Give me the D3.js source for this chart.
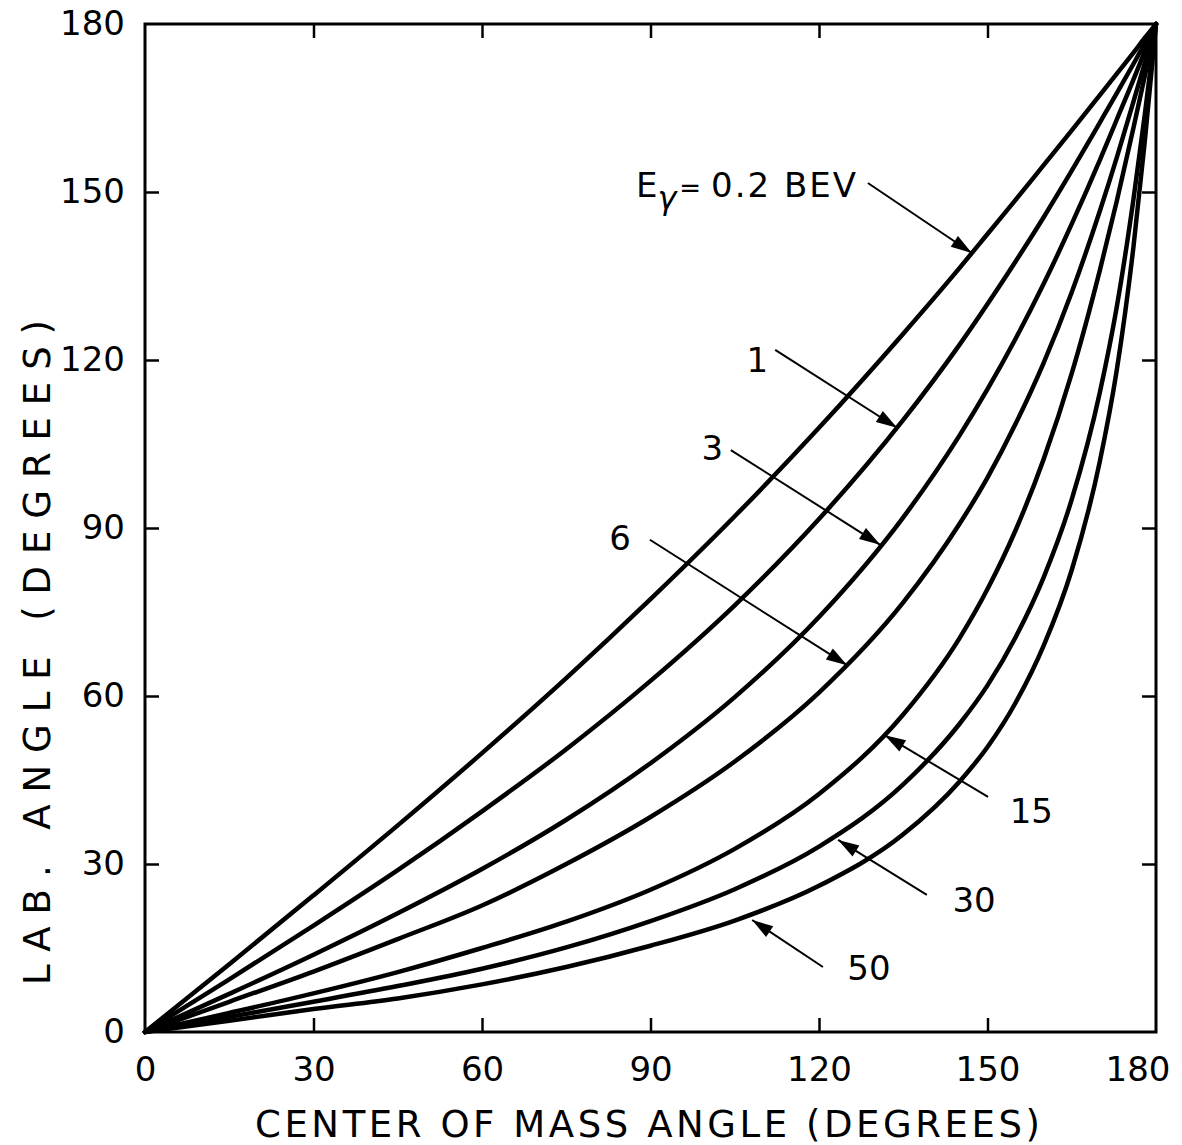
<!DOCTYPE html>
<html>
<head>
<meta charset="utf-8">
<script src="https://cdn.jsdelivr.net/npm/d3@7"></script>
<style>
  html, body { margin: 0; padding: 0; background: #fff; }
  svg { display: block; }
  text { font-family: "DejaVu Sans", "Liberation Sans", sans-serif; fill: #000; }
</style>
</head>
<body>
<div id="chart"></div>
<script>
// ---- Data ----
const cmAngles = [0, 15, 30, 45, 60, 75, 90, 105, 120, 135, 145, 150, 155, 160, 165, 170, 173, 176, 178, 180];

const labE02 = [0, 12.1, 24.4, 36.9, 49.8, 63.2, 77.3, 92.1, 107.9, 124.7, 136.4, 142.5, 148.6, 154.8, 161.0, 167.3, 171.1, 174.9, 177.5, 180];
const labE1  = [0, 9.4, 19.0, 28.9, 39.4, 50.5, 62.7, 76.2, 91.6, 109.3, 122.7, 130.0, 137.6, 145.5, 153.8, 162.4, 167.6, 172.9, 176.5, 180];
const labE3  = [0, 6.8, 13.8, 21.2, 29.1, 37.9, 48.0, 59.8, 74.1, 91.9, 106.5, 114.8, 123.8, 133.6, 144.3, 155.7, 162.9, 170.1, 175.1, 180];
const labE6  = [0, 5.4, 10.8, 16.6, 22.6, 30.0, 38.4, 48.3, 60.6, 76.7, 90.7, 99.0, 108.6, 119.5, 132.1, 146.6, 156.1, 166.2, 173.0, 180];
const labE15 = [0, 3.4, 6.9, 10.7, 15.0, 19.7, 25.4, 32.7, 42.5, 56.7, 70.3, 79.1, 89.6, 102.3, 117.6, 136.0, 148.3, 161.5, 170.7, 180];
const labE30 = [0, 2.7, 5.4, 8.2, 11.3, 15.1, 19.8, 25.5, 33.1, 44.2, 55.0, 61.9, 70.5, 81.2, 95.1, 114.2, 129.4, 148.8, 163.8, 180];
const labE50 = [0, 2.0, 4.1, 6.0, 8.5, 11.6, 15.4, 19.9, 26.1, 35.3, 44.7, 50.9, 58.8, 69.0, 82.5, 101.9, 118.1, 140.3, 159.0, 180];

const seriesValues = [labE02, labE1, labE3, labE6, labE15, labE30, labE50];

const xTicks = [0, 30, 60, 90, 120, 150, 180];
const yTicks = [0, 30, 60, 90, 120, 150, 180];
const xTitle = "CENTER OF MASS ANGLE (DEGREES)";
const yTitle = "LAB. ANGLE (DEGREES)";

// curve labels: text, label anchor (cm, lab), leader start (cm, lab), arrow tip (cm, lab)
const labelTexts = ["1", "3", "6", "15", "30", "50"];
const labelPos   = [[109.0, 117.9], [101.0, 102.1], [84.6, 86.1], [157.8, 37.4], [147.6, 21.4], [128.9, 9.3]];
const leaderFrom = [[112.2, 121.8], [104.3, 103.9], [89.9, 87.9], [150.1, 42.0], [139.2, 24.5], [120.7, 11.6]];
const leaderTo   = [[133.9, 107.9], [130.9, 87.0], [125.0, 65.5], [131.7, 53.0], [123.4, 34.3], [108.1, 20.0]];
const firstLabelPos = [87.4, 149.1];
const firstLeaderFrom = [128.7, 151.6];
const firstLeaderTo = [147.2, 139.1];

// ---- Drawing ----
const W = 1182, H = 1145;
const svg = d3.select("#chart").append("svg").attr("width", W).attr("height", H);

const x = d3.scaleLinear().domain([0, 180]).range([145, 1156]);
const y = d3.scaleLinear().domain([0, 180]).range([1032, 24]);

const tickLen = 14;

// bottom axis (labels)
const gB = svg.append("g").attr("transform", `translate(0,${y(0)})`)
  .call(d3.axisBottom(x).tickValues(xTicks).tickSize(-tickLen).tickPadding(25).tickFormat(d3.format("d")));
// left axis (labels)
const gL = svg.append("g").attr("transform", `translate(${x(0)},0)`)
  .call(d3.axisLeft(y).tickValues(yTicks).tickSize(-tickLen).tickPadding(20).tickFormat(d3.format("d")));
// top & right axes (ticks only)
const gT = svg.append("g").attr("transform", `translate(0,${y(180)})`)
  .call(d3.axisTop(x).tickValues(xTicks.slice(1, -1)).tickSize(-tickLen).tickFormat(""));
const gR = svg.append("g").attr("transform", `translate(${x(180)},0)`)
  .call(d3.axisRight(y).tickValues(yTicks.slice(1, -1)).tickSize(-tickLen).tickFormat(""));

[gB, gL, gT, gR].forEach(g => {
  g.select(".domain").remove();
  g.selectAll(".tick line").attr("stroke", "#000").attr("stroke-width", 2.5);
  g.selectAll(".tick text").attr("font-size", 34).attr("fill", "#000")
    .style("font-family", "'DejaVu Sans', sans-serif");
});
gB.selectAll(".tick").filter(d => d === 0 || d === 180).select("line").remove();
gL.selectAll(".tick").filter(d => d === 0 || d === 180).select("line").remove();
// keep the last bottom label inside the picture, as in the reference
gB.selectAll(".tick").filter(d => d === 180).select("text")
  .attr("text-anchor", "end").attr("x", 14);

// frame
svg.append("rect")
  .attr("x", x(0)).attr("y", y(180))
  .attr("width", x(180) - x(0)).attr("height", y(0) - y(180))
  .attr("fill", "none").attr("stroke", "#000").attr("stroke-width", 3);

// curves
const line = d3.line()
  .x((d, i) => x(cmAngles[i]))
  .y(d => y(d))
  .curve(d3.curveMonotoneX);

svg.append("g").selectAll("path").data(seriesValues).join("path")
  .attr("d", d => line(d))
  .attr("fill", "none").attr("stroke", "#000")
  .attr("stroke-width", 4.5).attr("stroke-linejoin", "round").attr("stroke-linecap", "round");

// arrow marker
svg.append("defs").append("marker")
  .attr("id", "arrow").attr("markerUnits", "userSpaceOnUse")
  .attr("viewBox", "-22 -8 24 16").attr("refX", 0).attr("refY", 0)
  .attr("markerWidth", 24).attr("markerHeight", 16).attr("orient", "auto")
  .append("path").attr("d", "M0,0 L-21,-6.5 L-21,6.5 Z").attr("fill", "#000");

function leader(from, to) {
  svg.append("line")
    .attr("x1", x(from[0])).attr("y1", y(from[1]))
    .attr("x2", x(to[0])).attr("y2", y(to[1]))
    .attr("stroke", "#000").attr("stroke-width", 2)
    .attr("marker-end", "url(#arrow)");
}

// first label: E_gamma = 0.2 BEV
const t0 = svg.append("text")
  .attr("x", x(firstLabelPos[0])).attr("y", y(firstLabelPos[1]))
  .attr("font-size", 34);
t0.append("tspan").text("E");
t0.append("tspan").attr("dy", 12).attr("font-size", 32).attr("font-style", "italic").text("γ");
t0.append("tspan").attr("dy", -12).attr("font-size", 26).attr("dx", 3).text("=");
t0.append("tspan").attr("dx", 10).attr("letter-spacing", 2).text("0.2 BEV");
leader(firstLeaderFrom, firstLeaderTo);

labelTexts.forEach((t, i) => {
  svg.append("text")
    .attr("x", x(labelPos[i][0])).attr("y", y(labelPos[i][1]))
    .attr("text-anchor", "middle").attr("font-size", 34).text(t);
  leader(leaderFrom[i], leaderTo[i]);
});

// axis titles
svg.append("text")
  .attr("x", 255).attr("y", 1137)
  .attr("font-size", 37)
  .attr("textLength", 785).attr("lengthAdjust", "spacing")
  .text(xTitle);

svg.append("text")
  .attr("transform", `translate(50,985) rotate(-90)`)
  .attr("font-size", 37)
  .attr("textLength", 665).attr("lengthAdjust", "spacing")
  .text(yTitle);
</script>
</body>
</html>
